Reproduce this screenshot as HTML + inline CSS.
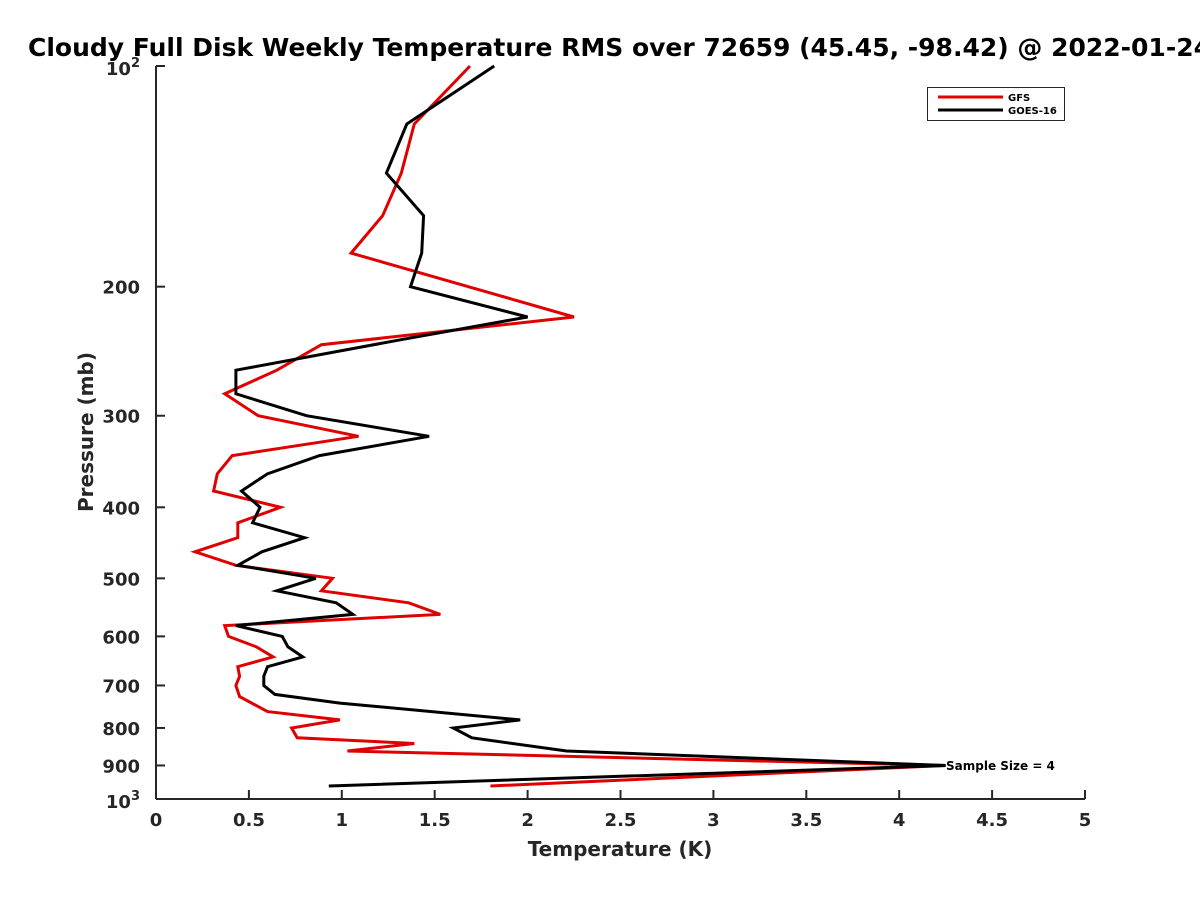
<!DOCTYPE html>
<html><head><meta charset="utf-8"><style>
body{margin:0;background:#fff;overflow:hidden;}
svg{display:block;font-family:"DejaVu Sans","Liberation Sans",sans-serif;font-weight:bold;}
</style></head><body>
<svg id="chart" width="1200" height="900" viewBox="0 0 1200 900" xmlns="http://www.w3.org/2000/svg">
<text x="28" y="56" font-size="25" fill="#000">Cloudy Full Disk Weekly Temperature RMS over 72659 (45.45, -98.42) @ 2022-01-24</text>
<g id="axes"></g>
<g id="series"></g>
<text x="620" y="856" font-size="20" fill="#262626" text-anchor="middle">Temperature (K)</text>
<text transform="translate(93,432) rotate(-90)" font-size="20" fill="#262626" text-anchor="middle">Pressure (mb)</text>
<text x="946" y="770" font-size="12" fill="#000">Sample Size = 4</text>
<g>
<rect x="927.5" y="87.5" width="137" height="33" fill="#fff" stroke="#262626" stroke-width="1"/>
<line x1="938" y1="97" x2="1003" y2="97" stroke="#e00000" stroke-width="3"/>
<text x="1008" y="101" font-size="10" fill="#000">GFS</text>
<line x1="938" y1="110" x2="1003" y2="110" stroke="#000" stroke-width="3"/>
<text x="1008" y="114" font-size="10" fill="#000">GOES-16</text>
</g>
</svg>
<script>
const xTicks=[0,0.5,1,1.5,2,2.5,3,3.5,4,4.5,5];
const xTickLabels=["0","0.5","1","1.5","2","2.5","3","3.5","4","4.5","5"];
const yTicks=[200,300,400,500,600,700,800,900];
const gfsPressure=[100,120,140,160,180,220,240,260,280,300,320,340,360,380,400,420,440,460,480,500,520,540,560,580,600,620,640,660,680,700,725,760,780,800,825,840,860,900,960];
const gfsTemp=[1.69,1.39,1.32,1.22,1.05,2.25,0.89,0.65,0.37,0.55,1.09,0.41,0.33,0.31,0.67,0.44,0.44,0.21,0.43,0.95,0.89,1.36,1.53,0.37,0.39,0.54,0.63,0.44,0.45,0.43,0.45,0.60,0.99,0.73,0.76,1.39,1.03,4.25,1.80];
const goesPressure=[100,120,140,160,180,200,220,236,260,280,300,320,340,360,380,400,420,440,460,480,500,520,540,560,580,600,620,640,660,680,700,720,740,780,800,825,860,900,960];
const goesTemp=[1.82,1.35,1.24,1.44,1.43,1.37,2.00,1.33,0.43,0.43,0.81,1.47,0.88,0.60,0.46,0.56,0.52,0.80,0.57,0.44,0.86,0.65,0.97,1.06,0.43,0.68,0.71,0.79,0.60,0.58,0.58,0.64,0.99,1.96,1.60,1.70,2.21,4.25,0.93];
const X0=156,X1=1085,Y0=66,Y1=799;
const xs=v=>X0+(v/5)*(X1-X0);
const ys=p=>Y0+(Math.log10(p)-2)*(Y1-Y0);
const NS="http://www.w3.org/2000/svg";
const axes=document.getElementById('axes'),series=document.getElementById('series');
function mk(tag,attrs,parent){const e=document.createElementNS(NS,tag);for(const k in attrs)e.setAttribute(k,attrs[k]);parent.appendChild(e);return e;}
let ax=mk('line',{x1:X0,y1:Y0,x2:X0,y2:Y1,stroke:'#262626','stroke-width':2},axes);


let bx=mk('line',{x1:X0,y1:Y1,x2:X1,y2:Y1,stroke:'#262626','stroke-width':2},axes);


xTicks.forEach((v,i)=>{
 const t=mk('line',{x1:xs(v),y1:Y1,x2:xs(v),y2:Y1-9,stroke:'#262626','stroke-width':2},axes);
 
 
 const l=mk('text',{x:xs(v),y:Y1+27,'font-size':18,fill:'#262626','text-anchor':'middle'},axes);
 l.textContent=xTickLabels[i];
 
 
});
[100].concat(yTicks,[1000]).forEach(p=>{
 const t=mk('line',{x1:X0,y1:ys(p),x2:X0+9,y2:ys(p),stroke:'#262626','stroke-width':2},axes);
 
 
});
yTicks.forEach(p=>{
 const l=mk('text',{x:X0-16,y:ys(p)+7,'font-size':18,fill:'#262626','text-anchor':'end'},axes);
 l.textContent=String(p);
 
 
});
[[100,'2'],[1000,'3']].forEach(([p,e])=>{
 const l=mk('text',{x:X0-16,y:ys(p)+9,'font-size':18,fill:'#262626','text-anchor':'end'},axes);
 l.innerHTML='10<tspan dy="-8" font-size="13">'+e+'</tspan>';
 
 
});
function draw(pr,tv,color,name){
 const d=pr.map((p,i)=>(i?'L':'M')+xs(tv[i]).toFixed(1)+','+ys(p).toFixed(1)).join('');
 const pa=mk('path',{d:d,fill:'none',stroke:color,'stroke-width':3,'stroke-linejoin':'miter'},series);
 
 
}
draw(gfsPressure,gfsTemp,'#e00000','gfs-line');
draw(goesPressure,goesTemp,'#000000','goes16-line');
</script>
</body></html>
